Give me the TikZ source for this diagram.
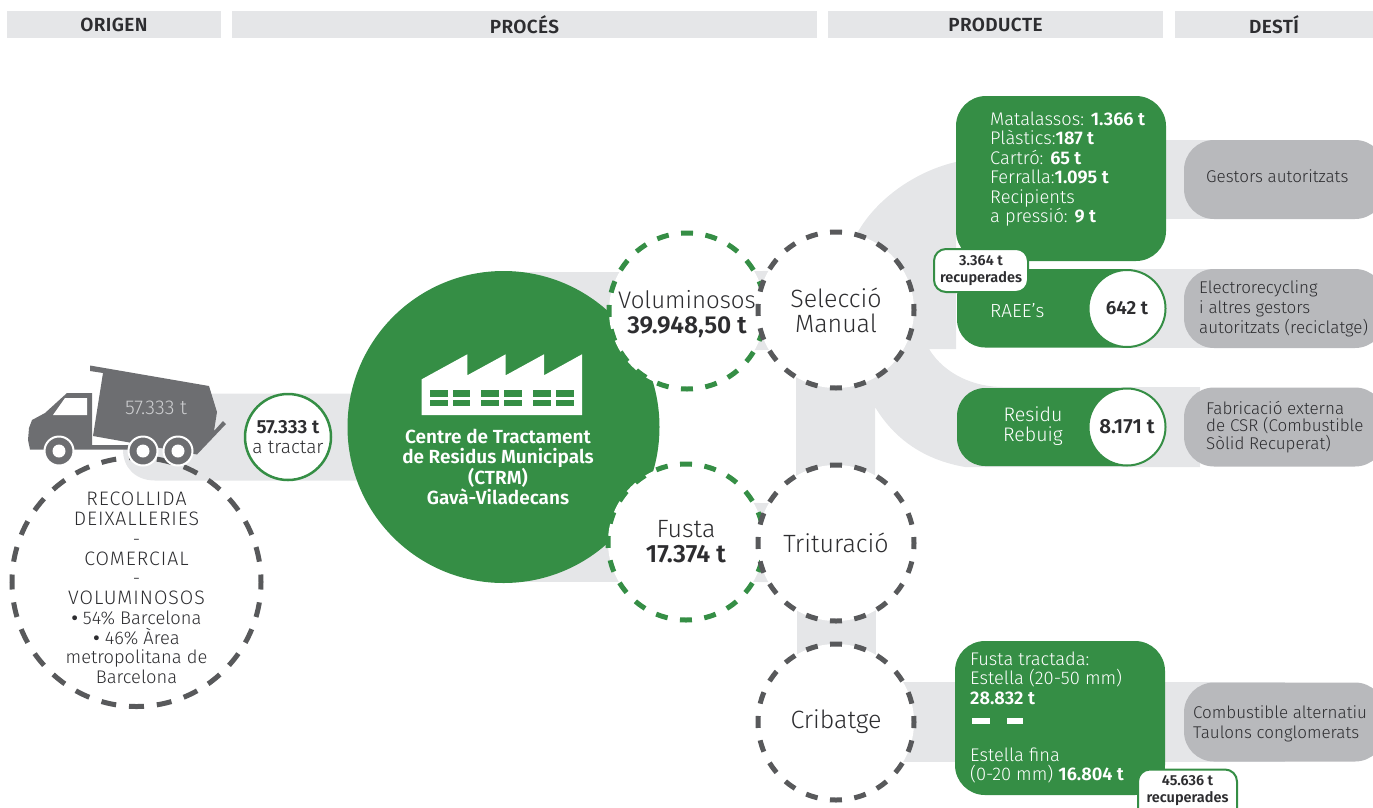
\documentclass[tikz,border=0pt]{standalone}
\usepackage{fontspec}
\setmainfont{Fira Sans}[UprightFont=* Light,BoldFont=* SemiBold]
\usetikzlibrary{backgrounds}
\definecolor{bandColor}{RGB}{229,230,232}
\definecolor{greenColor}{RGB}{53,142,69}
\definecolor{destColor}{RGB}{184,185,188}
\definecolor{truckColor}{RGB}{109,110,113}
\definecolor{dashColor}{RGB}{88,89,91}
\definecolor{textColor}{RGB}{45,45,48}
\newcommand{\fs}[2]{\fontsize{#1}{#2}\selectfont}
\newcommand{\spaced}[1]{{\fs{19.5}{19.8}\addfontfeatures{LetterSpace=5}#1}}
\tikzset{
  head/.style={fill=bandColor,inner sep=0pt,outer sep=0pt,minimum height=27pt,text=textColor,font=\fs{19}{20}\bfseries\addfontfeatures{LetterSpace=2}},
  bandline/.style={draw=bandColor,line width=#1},
  stage/.style={circle,fill=white,inner sep=0pt,outer sep=0pt,minimum size=156pt,line width=5pt,dash pattern=on 12pt off 12.5pt,dash phase=6pt,align=center,text=textColor,font=\fs{25}{25}},
  greystage/.style={stage,draw=dashColor},
  greenstage/.style={stage,draw=greenColor},
  greenbox/.style={fill=greenColor,rounded corners=30pt,inner sep=0pt,outer sep=0pt},
  destbox/.style={fill=destColor,rounded corners=30pt,inner sep=0pt,outer sep=0pt,minimum width=201pt,minimum height=79pt},
  amount/.style={circle,fill=white,draw=greenColor,line width=2pt,inner sep=0pt,outer sep=0pt,minimum size=77pt,text=textColor},
  boxtext/.style={anchor=west,align=left,inner sep=0pt,text=white,font=\fs{18.3}{19.4}},
  desttext/.style={anchor=west,align=left,inner sep=0pt,text=textColor,font=\fs{17}{20}},
  taglabel/.style={align=center,inner sep=0pt,text=textColor,font=\fs{14.5}{17}\bfseries},
}
\begin{document}
\begin{tikzpicture}[x=1pt,y=-1pt]
\path[use as bounding box] (0,0) rectangle (1373,807);
\path[clip] (0,0) rectangle (1373,807);

% headers
\node[head,minimum width=214pt] (origen) at (114,24.5) {ORIGEN};
\node[head,minimum width=585pt] (proces) at (524.5,24.5) {PROCÉS};
\node[head,minimum width=335pt] (producte) at (995.5,24.5) {PRODUCTE};
\node[head,minimum width=198pt] (desti) at (1274,24.5) {DESTÍ};

% origin
\node[circle,draw=dashColor,line width=5pt,inner sep=0pt,outer sep=0pt,minimum size=249pt,dash pattern=on 15pt off 12.94pt,dash phase=7.5pt] (recollida) at (136.5,582) {};
\node[align=center,inner sep=0pt,text=textColor,font=\fs{18.3}{19.8}] (recollidatxt) at (136.5,588) {\spaced{RECOLLIDA}\\\spaced{DEIXALLERIES}\\-\\\spaced{COMERCIAL}\\-\\\spaced{VOLUMINOSOS}\\\textbf{•} 54\% Barcelona\\\textbf{•} 46\% Àrea\\metropolitana de\\Barcelona};
\node[circle,fill=white,draw=greenColor,line width=2.5pt,inner sep=0pt,outer sep=0pt,minimum size=86pt,align=center,text=textColor,font=\fs{19}{20}] (tractar) at (288,437) {\textbf{57.333 t}\\a tractar};

% centre
\node[circle,fill=greenColor,inner sep=0pt,outer sep=0pt,minimum size=312pt] (ctrm) at (503.5,427) {};
\path[fill=white] (421.7,415) -- (421.7,379.3) -- (467.3,354.3) -- (467.3,375.3) -- (505.7,354.3) -- (505.7,375.3) -- (544,354.3) -- (544,375.3) -- (582,354.3) -- (582,415) -- cycle;
\foreach \wx/\wy in {430/390,452.7/390,481.3/390,504/390,533.3/390,556/390,430/399.5,452.7/399.5,481.3/399.5,504/399.5,533.3/399.5,556/399.5}
  \path[fill=greenColor] (\wx,\wy) rectangle ++(17.7,6.6);
\node[align=center,inner sep=0pt,text=white,font=\fs{19}{20}\bfseries] (ctrmtxt) at (498,467) {Centre de Tractament\\de Residus Municipals\\(CTRM)\\Gavà-Viladecans};

% stages
\node[greenstage] (voluminosos) at (687,311) {\rule{0pt}{25pt}{\fs{24}{25}Voluminosos}\\{\fs{24.5}{25}\bfseries 39.948,50 t}};
\node[greenstage] (fusta) at (686,542) {Fusta\\\textbf{17.374 t}};
\node[greystage] (seleccio) at (836,310) {Selecció\\Manual};
\node[greystage] (trituracio) at (836,543) {Trituració};
\node[greystage] (cribatge) at (836,722) {Cribatge};

% products
\node[greenbox,minimum width=210pt,minimum height=165pt] (materials) at (1061,178.5) {};
\node[boxtext] (materialstxt) at (990,169) {Matalassos: \textbf{1.366 t}\\Plàstics:\textbf{187 t}\\Cartró: \textbf{65 t}\\Ferralla:\textbf{1.095 t}\\Recipients\\a pressió: \textbf{9 t}};
\path[fill=greenColor] (1127,269) [rounded corners=28pt] -- (957,269) -- (957,347.5) [sharp corners] -- (1127,347.5) -- cycle;
\node[amount,font=\fs{19}{20}\bfseries] (raeeamount) at (1127,308.5) {642 t};
\node[boxtext,font=\fs{19}{20}] (raeetxt) at (990,311) {RAEE's};
\path[fill=greenColor] (1127,388) [rounded corners=28pt] -- (957,388) -- (957,466) [sharp corners] -- (1127,466) -- cycle;
\node[amount,font=\fs{20.5}{20}\bfseries] (rebuigamount) at (1127,427) {8.171 t};
\node[boxtext,anchor=center,align=center,font=\fs{19.6}{20}] (rebuigtxt) at (1033,426) {Residu\\Rebuig};
\node[greenbox,minimum width=210pt,minimum height=154pt] (estella) at (1060,718) {};
\node[boxtext] (estellatxt) at (970,678) {Fusta tractada:\\Estella (20-50 mm)\\\textbf{28.832 t}};
\path[fill=white] (972,718) rectangle (989.5,724);
\path[fill=white] (1006.5,718) rectangle (1023,724);
\node[boxtext] (estellafinatxt) at (970,765.5) {Estella fina\\(0-20 mm) \textbf{16.804 t}};

% tags
\node[rounded corners=12pt,fill=white,draw=greenColor,line width=2pt,inner sep=0pt,outer sep=0pt,minimum width=94pt,minimum height=43pt] (tagone) at (981,270.5) {};
\node[taglabel] (tagonetxt) at (981,271) {3.364 t\\recuperades};
\path[fill=white,draw=greenColor,line width=2pt,rounded corners=12pt] (1138,815) -- (1138,769.5) -- (1237,769.5) -- (1237,815);
\node[taglabel] (tagtwotxt) at (1187.5,790.5) {45.636 t\\recuperades};

% destinations
\node[destbox] (gestors) at (1284.5,179.5) {};
\node[desttext] (gestorstxt) at (1206,176) {Gestors autoritzats};
\node[destbox] (electro) at (1284.5,308.5) {};
\node[desttext] (electrotxt) at (1199,309) {Electrorecycling\\i altres gestors\\autoritzats (reciclatge)};
\node[destbox] (externa) at (1284.5,427) {};
\node[desttext,font=\fs{17}{17.8}] (externatxt) at (1206,427) {Fabricació externa\\de CSR (Combustible\\Sòlid Recuperat)};
\node[destbox] (alternatiu) at (1284.5,722) {};
\node[desttext] (alternatiutxt) at (1193,723.5) {Combustible alternatiu\\Taulons conglomerats};

% truck
\path[fill=truckColor] (90,365.5) -- (209,386) -- (217,412) -- (214,431) -- (223,421) -- (226,424) -- (197,454.5) -- (93,436) -- (103,373) -- (90,371) -- cycle;
\path[fill=truckColor] (92,393) -- (67,393) -- (45,413) -- (32,420) -- (29,428) -- (28,440) -- (30,449.5) -- (128,449.5) -- (128,445) -- (92,445) -- cycle;
\path[fill=white] (65,398) -- (87,398) -- (87,415) -- (53,415) -- cycle;
\foreach \wheel in {59,143,178} {
  \path[fill=truckColor,draw=white,line width=2pt] (\wheel,451) circle (14.5);
  \path[fill=white] (\wheel,451) circle (6.5);
}
\node[inner sep=0pt,text=destColor!70!white,font=\fs{20}{20}] (truckload) at (156,408) {57.333 t};

\begin{pgfonlayer}{background}
% bands
\path[fill=bandColor] (180,393.5) -- (360,393.5) -- (360,480.5) -- (155,480.5) .. controls (135,480.5) and (123,467) .. (123,450) -- cycle;
\path[bandline=79pt] (ctrm.center |- voluminosos.center) -- (voluminosos.center);
\path[bandline=79pt] (ctrm.center |- fusta.center) -- (fusta.center);
\path[bandline=79pt] (voluminosos.center) -- (seleccio.center);
\path[bandline=79pt] (fusta.center) -- (trituracio.center);
\path[bandline=79pt] (trituracio.center) -- (cribatge.center);
\path[bandline=80pt] (cribatge.center) -- (alternatiu.center);
\path[bandline=79pt] (materials.center |- gestors.center) -- (gestors.center);
\path[bandline=79pt] (raeeamount.center) -- (electro.center);
\path[fill=bandColor] (859,230) .. controls (880,195) and (920,170) .. (956,162) -- (956,349) -- (929,349) .. controls (945,375) and (975,387) .. (1003,387) -- (1200,387) -- (1200,467) -- (965,467) .. controls (925,460) and (895,440) .. (875,407) -- (875,480) -- (796,480) -- (796,310) -- cycle;
\end{pgfonlayer}
\end{tikzpicture}
\end{document}
